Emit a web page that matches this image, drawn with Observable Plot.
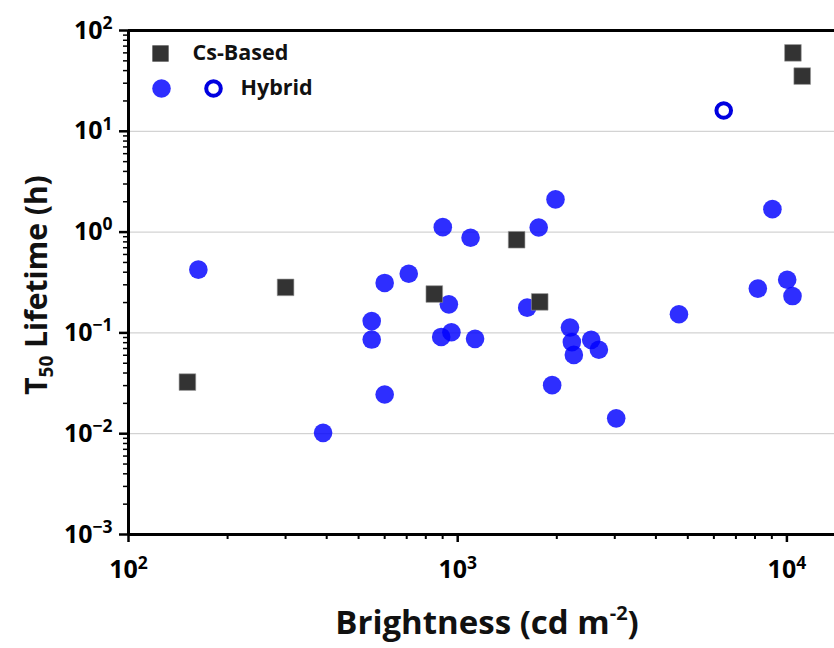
<!DOCTYPE html>
<html>
<head>
<meta charset="utf-8">
<script src="https://cdn.jsdelivr.net/npm/d3@7"></script>
<script src="https://cdn.jsdelivr.net/npm/@observablehq/plot@0.6"></script>
<style>
  html, body { margin: 0; padding: 0; background: #ffffff; }
  #chart { width: 834px; height: 648px; }
</style>
</head>
<body>
<div id="chart"></div>
<script>
// ---- Data ----
const csBrightness = [151, 300, 849, 1510, 1775, 10430, 11130];
const csLifetime   = [0.0325, 0.283, 0.243, 0.84, 0.203, 60, 35.3];

const hybridBrightness = [163, 390, 548, 548, 600, 600, 710, 891, 901, 940, 957, 1094, 1129, 1626,
                          1762, 1936, 1982, 2193, 2222, 2253, 2544, 2684, 3030, 4700, 8160, 9036, 10020, 10400];
const hybridLifetime   = [0.424, 0.0102, 0.131, 0.0859, 0.313, 0.0245, 0.386, 0.0912, 1.12, 0.192, 0.1016, 0.879, 0.0873, 0.178,
                          1.11, 0.0303, 2.11, 0.113, 0.081, 0.0605, 0.0853, 0.068, 0.0142, 0.153, 0.275, 1.69, 0.337, 0.232];

const hybridOpenBrightness = [6428];
const hybridOpenLifetime   = [16.1];

const legendLabels = ["Cs-Based", "Hybrid"];

const xTicks = [100, 1000, 10000];
const xTickExponents = [2, 3, 4];
const yTicks = [0.001, 0.01, 0.1, 1, 10, 100];
const yTickExponents = [-3, -2, -1, 0, 1, 2];
const yGrid = [0.01, 0.1, 1, 10];

const xTitle = ["Brightness (cd m", "-2", ")"];
const yTitle = ["T", "50", " Lifetime (h)"];

// ---- Build tables ----
const cs = csBrightness.map((b, i) => ({b, t: csLifetime[i]}));
const hybrid = hybridBrightness.map((b, i) => ({b, t: hybridLifetime[i]}));
const hybridOpen = hybridOpenBrightness.map((b, i) => ({b, t: hybridOpenLifetime[i]}));

// minor ticks (2..9 within each decade)
const xMinor = [];
for (let d = 100; d < 14000; d *= 10) for (let k = 2; k <= 9; k++) if (d * k < 13950) xMinor.push(d * k);
const yMinor = [];
for (let d = 0.001; d < 100; d *= 10) for (let k = 2; k <= 9; k++) yMinor.push(d * k);

const expLabel = (exps, vals) => v => {
  const i = vals.findIndex(w => Math.abs(w - v) / w < 1e-6);
  const e = exps[i];
  return "10^" + (e < 0 ? "\u2212" + (-e) : String(e));
};

const FONT = "'Open Sans', 'DejaVu Sans', sans-serif";

const chart = Plot.plot({
  width: 834,
  height: 648,
  marginLeft: 128,
  marginRight: 0,
  marginTop: 30,
  marginBottom: 114,
  style: {fontFamily: FONT, fontWeight: "bold", background: "#ffffff", color: "#000", overflow: "visible"},
  x: {type: "log", domain: [100, 13950]},
  y: {type: "log", domain: [0.001, 100]},
  marks: [
    Plot.gridY(yGrid, {stroke: "#c8c8c8", strokeOpacity: 1, strokeWidth: 1}),
    // minor ticks
    Plot.axisX(xMinor, {tickSize: 5, strokeWidth: 2, tickFormat: () => "", label: null}),
    Plot.axisY(yMinor, {tickSize: 5, strokeWidth: 1.5, tickFormat: () => "", label: null}),
    // major ticks
    Plot.axisX(xTicks, {tickSize: 8, strokeWidth: 2.5, tickPadding: 18, fontSize: 25, fontWeight: "bold",
      tickFormat: expLabel(xTickExponents, xTicks), label: null}),
    Plot.axisY(yTicks, {tickSize: 9, strokeWidth: 2.5, tickPadding: 7, fontSize: 25, fontWeight: "bold",
      tickFormat: expLabel(yTickExponents, yTicks), label: null}),
    // frame lines
    Plot.ruleY([0.001], {stroke: "#000", strokeWidth: 3}),
    Plot.ruleY([100], {stroke: "#000", strokeWidth: 3}),
    Plot.ruleX([100], {stroke: "#000", strokeWidth: 3}),
    // data
    Plot.dot(hybrid, {x: "b", y: "t", r: 9.3, fill: "#0000ff", fillOpacity: 0.82, stroke: "none"}),
    Plot.dot(cs, {x: "b", y: "t", r: 9.4, symbol: "square", fill: "#333333", stroke: "#9a9a9a", strokeWidth: 0.6}),
    Plot.dot(hybridOpen, {x: "b", y: "t", r: 7.3, fill: "none", stroke: "#0000e0", strokeWidth: 4}),
    // legend
    Plot.dot([legendLabels[0]], {frameAnchor: "top-left", dx: 32, dy: 23, r: 9.2, symbol: "square", fill: "#333333"}),
    Plot.dot([legendLabels[1]], {frameAnchor: "top-left", dx: 33, dy: 58, r: 9.3, fill: "#0000ff", fillOpacity: 0.82}),
    Plot.dot([legendLabels[1]], {frameAnchor: "top-left", dx: 85, dy: 58, r: 7.3, fill: "none", stroke: "#0000e0", strokeWidth: 4}),
    Plot.text([legendLabels[0]], {text: d => d, frameAnchor: "top-left", dx: 64, dy: 23, textAnchor: "start", lineAnchor: "middle",
      fontSize: 21.5, fontWeight: "bold", fill: "#111"}),
    Plot.text([legendLabels[1]], {text: d => d, frameAnchor: "top-left", dx: 112, dy: 58, textAnchor: "start", lineAnchor: "middle",
      fontSize: 21.5, fontWeight: "bold", fill: "#111"})
  ]
});

document.getElementById("chart").appendChild(chart);

// superscript tick labels
d3.select(chart).selectAll("text").each(function () {
  const m = /^10\^(.+)$/.exec(this.textContent);
  if (!m) return;
  const sel = d3.select(this);
  sel.selectAll("*").remove();
  sel.text(null);
  sel.append("tspan").text("10");
  sel.append("tspan").attr("dy", "-0.55em").attr("font-size", "0.7em").text(m[1]);
});

// axis titles
const svg = d3.select(chart);
const xt = svg.append("text")
  .attr("x", 487).attr("y", 634)
  .attr("text-anchor", "middle")
  .attr("font-family", FONT).attr("font-weight", "bold").attr("font-size", 33).attr("fill", "#111");
xt.append("tspan").text(xTitle[0]);
xt.append("tspan").attr("dy", -14).attr("font-size", 20).text(xTitle[1]);
xt.append("tspan").attr("dy", 14).text(xTitle[2]);

const yt = svg.append("text")
  .attr("transform", "translate(47,285) rotate(-90)")
  .attr("text-anchor", "middle")
  .attr("font-family", FONT).attr("font-weight", "bold").attr("font-size", 30).attr("fill", "#111");
yt.append("tspan").text(yTitle[0]);
yt.append("tspan").attr("dy", 6).attr("font-size", 19).text(yTitle[1]);
yt.append("tspan").attr("dy", -6).text(yTitle[2]);
</script>
</body>
</html>
